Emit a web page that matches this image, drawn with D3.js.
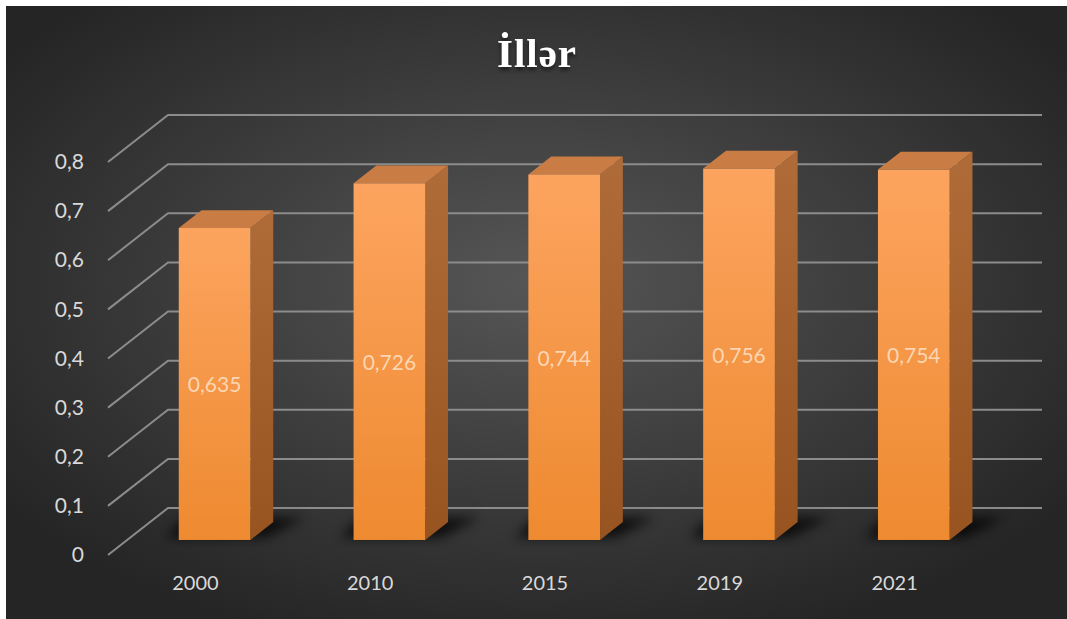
<!DOCTYPE html>
<html lang="az">
<head>
  <meta charset="UTF-8">
  <title>İllər</title>
  <script src="https://cdn.jsdelivr.net/npm/d3@7"></script>
  <style>
    body { margin: 0; background: #fff; }
    svg { display: block; }
    .tick text { font-family: Lato, "Open Sans", sans-serif; }
  </style>
</head>
<body>
  <div id="chart"></div>
  <script>
    // Data
    const years = ["2000", "2010", "2015", "2019", "2021"];
    const values = [0.635, 0.726, 0.744, 0.756, 0.754];
    const yTicks = [0, 0.1, 0.2, 0.3, 0.4, 0.5, 0.6, 0.7, 0.8];
    const title = "İllər";

    const width = 1067, height = 619;

    // 3D depth: front plane (t=0) to back wall (t=1)
    const depthX = 60, depthY = -47;
    const front = { x0: 108, x1: 982, y0: 555 };
    const tBarFront = 0.32, tBarBack = 0.70;

    const az = d3.formatLocale({ decimal: ",", thousands: " ", grouping: [3], currency: ["", ""] });
    const fmtTick = az.format(".1~f");
    const fmtVal = az.format(".3f");

    const svg = d3.select("#chart").append("svg")
      .attr("width", width).attr("height", height);

    const defs = svg.append("defs");
    const bg = defs.append("radialGradient").attr("id", "bg")
      .attr("cx", "50%").attr("cy", "45%").attr("r", "62%");
    bg.append("stop").attr("offset", "0%").attr("stop-color", "#565656");
    bg.append("stop").attr("offset", "100%").attr("stop-color", "#252525");

    const fg = defs.append("linearGradient").attr("id", "frontFace")
      .attr("x1", 0).attr("y1", 0).attr("x2", 0).attr("y2", 1);
    fg.append("stop").attr("offset", "0%").attr("stop-color", "#fca45f");
    fg.append("stop").attr("offset", "100%").attr("stop-color", "#ee8a30");

    const sg = defs.append("linearGradient").attr("id", "sideFace")
      .attr("x1", 0).attr("y1", 0).attr("x2", 0).attr("y2", 1);
    sg.append("stop").attr("offset", "0%").attr("stop-color", "#b06c38");
    sg.append("stop").attr("offset", "100%").attr("stop-color", "#985420");

    defs.append("filter").attr("id", "blur")
      .attr("x", "-50%").attr("y", "-50%").attr("width", "200%").attr("height", "200%")
      .append("feGaussianBlur").attr("stdDeviation", 6);

    defs.append("filter").attr("id", "titleShadow")
      .append("feDropShadow").attr("dx", 0).attr("dy", 3)
      .attr("stdDeviation", 2).attr("flood-color", "#000").attr("flood-opacity", 0.6);

    svg.append("rect").attr("x", 6).attr("y", 6)
      .attr("width", width - 6).attr("height", height - 6)
      .attr("fill", "url(#bg)");

    // Scales (front plane)
    const x = d3.scaleBand().domain(years)
      .range([front.x0, front.x1]).paddingInner(0.59).paddingOuter(0.295);
    const y = d3.scaleLinear().domain([0, 0.8]).range([front.y0, front.y0 - 393]);

    const px = (v, t) => v + depthX * t;
    const py = (v, t) => v + depthY * t;

    // Gridlines: diagonal on left side wall + horizontal on back wall
    const grid = svg.append("g").attr("stroke", "#8c8c8c").attr("stroke-width", 2).attr("fill", "none");
    grid.selectAll("path").data(yTicks).join("path")
      .attr("d", d => `M${front.x0},${y(d)} L${px(front.x0, 1)},${py(y(d), 1)} L${px(front.x1, 1)},${py(y(d), 1)}`);

    // Y axis labels
    svg.append("g")
      .attr("transform", `translate(${front.x0 - 21},0)`)
      .call(d3.axisLeft(y).tickValues(yTicks).tickFormat(fmtTick).tickSize(0))
      .call(g => g.select(".domain").remove())
      .call(g => g.selectAll("text").attr("fill", "#d9d9d9").attr("font-size", 21));

    // X axis labels
    svg.append("g")
      .attr("transform", `translate(0,${front.y0 + 18})`)
      .call(d3.axisBottom(x).tickSize(0))
      .call(g => g.select(".domain").remove())
      .call(g => g.selectAll("text").attr("fill", "#d9d9d9").attr("font-size", 20));

    const bars = svg.append("g").selectAll("g").data(years.map((k, i) => ({ k, v: values[i] }))).join("g");

    // Shadows on floor
    bars.append("path")
      .attr("fill", "#000").attr("opacity", 0.75).attr("filter", "url(#blur)")
      .attr("d", d => {
        const l = x(d.k) - 16, r = x(d.k) + x.bandwidth() + 12, b = y(0);
        const t0 = tBarFront + 0.05, t1 = tBarBack + 0.1;
        return `M${px(l, t0)},${py(b, t0)} L${px(r, t0)},${py(b, t0)} L${px(r + 14, t1)},${py(b, t1)} L${px(l - 6, t1)},${py(b, t1)}Z`;
      });

    // Side face
    bars.append("path").attr("fill", "url(#sideFace)")
      .attr("d", d => {
        const r = x(d.k) + x.bandwidth(), b = y(0), tp = y(d.v);
        return `M${px(r, tBarFront)},${py(tp, tBarFront)} L${px(r, tBarBack)},${py(tp, tBarBack)} L${px(r, tBarBack)},${py(b, tBarBack)} L${px(r, tBarFront)},${py(b, tBarFront)}Z`;
      });

    // Top face
    bars.append("path").attr("fill", "#c97d45")
      .attr("d", d => {
        const l = x(d.k), r = x(d.k) + x.bandwidth(), tp = y(d.v);
        return `M${px(l, tBarFront)},${py(tp, tBarFront)} L${px(r, tBarFront)},${py(tp, tBarFront)} L${px(r, tBarBack)},${py(tp, tBarBack)} L${px(l, tBarBack)},${py(tp, tBarBack)}Z`;
      });

    // Front face
    bars.append("rect").attr("fill", "url(#frontFace)")
      .attr("x", d => px(x(d.k), tBarFront))
      .attr("y", d => py(y(d.v), tBarFront))
      .attr("width", x.bandwidth())
      .attr("height", d => y(0) - y(d.v));

    // Value labels
    bars.append("text")
      .attr("x", d => px(x(d.k) + x.bandwidth() / 2, tBarFront))
      .attr("y", d => py((y(d.v) + y(0)) / 2, tBarFront))
      .attr("text-anchor", "middle").attr("dominant-baseline", "central")
      .attr("font-family", "Lato, 'Open Sans', sans-serif").attr("font-size", 21)
      .attr("fill", "#fde2c8").attr("fill-opacity", 0.85)
      .text(d => fmtVal(d.v));

    // Title
    svg.append("text")
      .attr("x", 537).attr("y", 67)
      .attr("text-anchor", "middle")
      .attr("font-family", "'Liberation Serif', 'DejaVu Serif', serif")
      .attr("font-weight", "bold").attr("font-size", 41)
      .attr("letter-spacing", 1)
      .attr("fill", "#fff").attr("filter", "url(#titleShadow)")
      .text(title);
  </script>
</body>
</html>
